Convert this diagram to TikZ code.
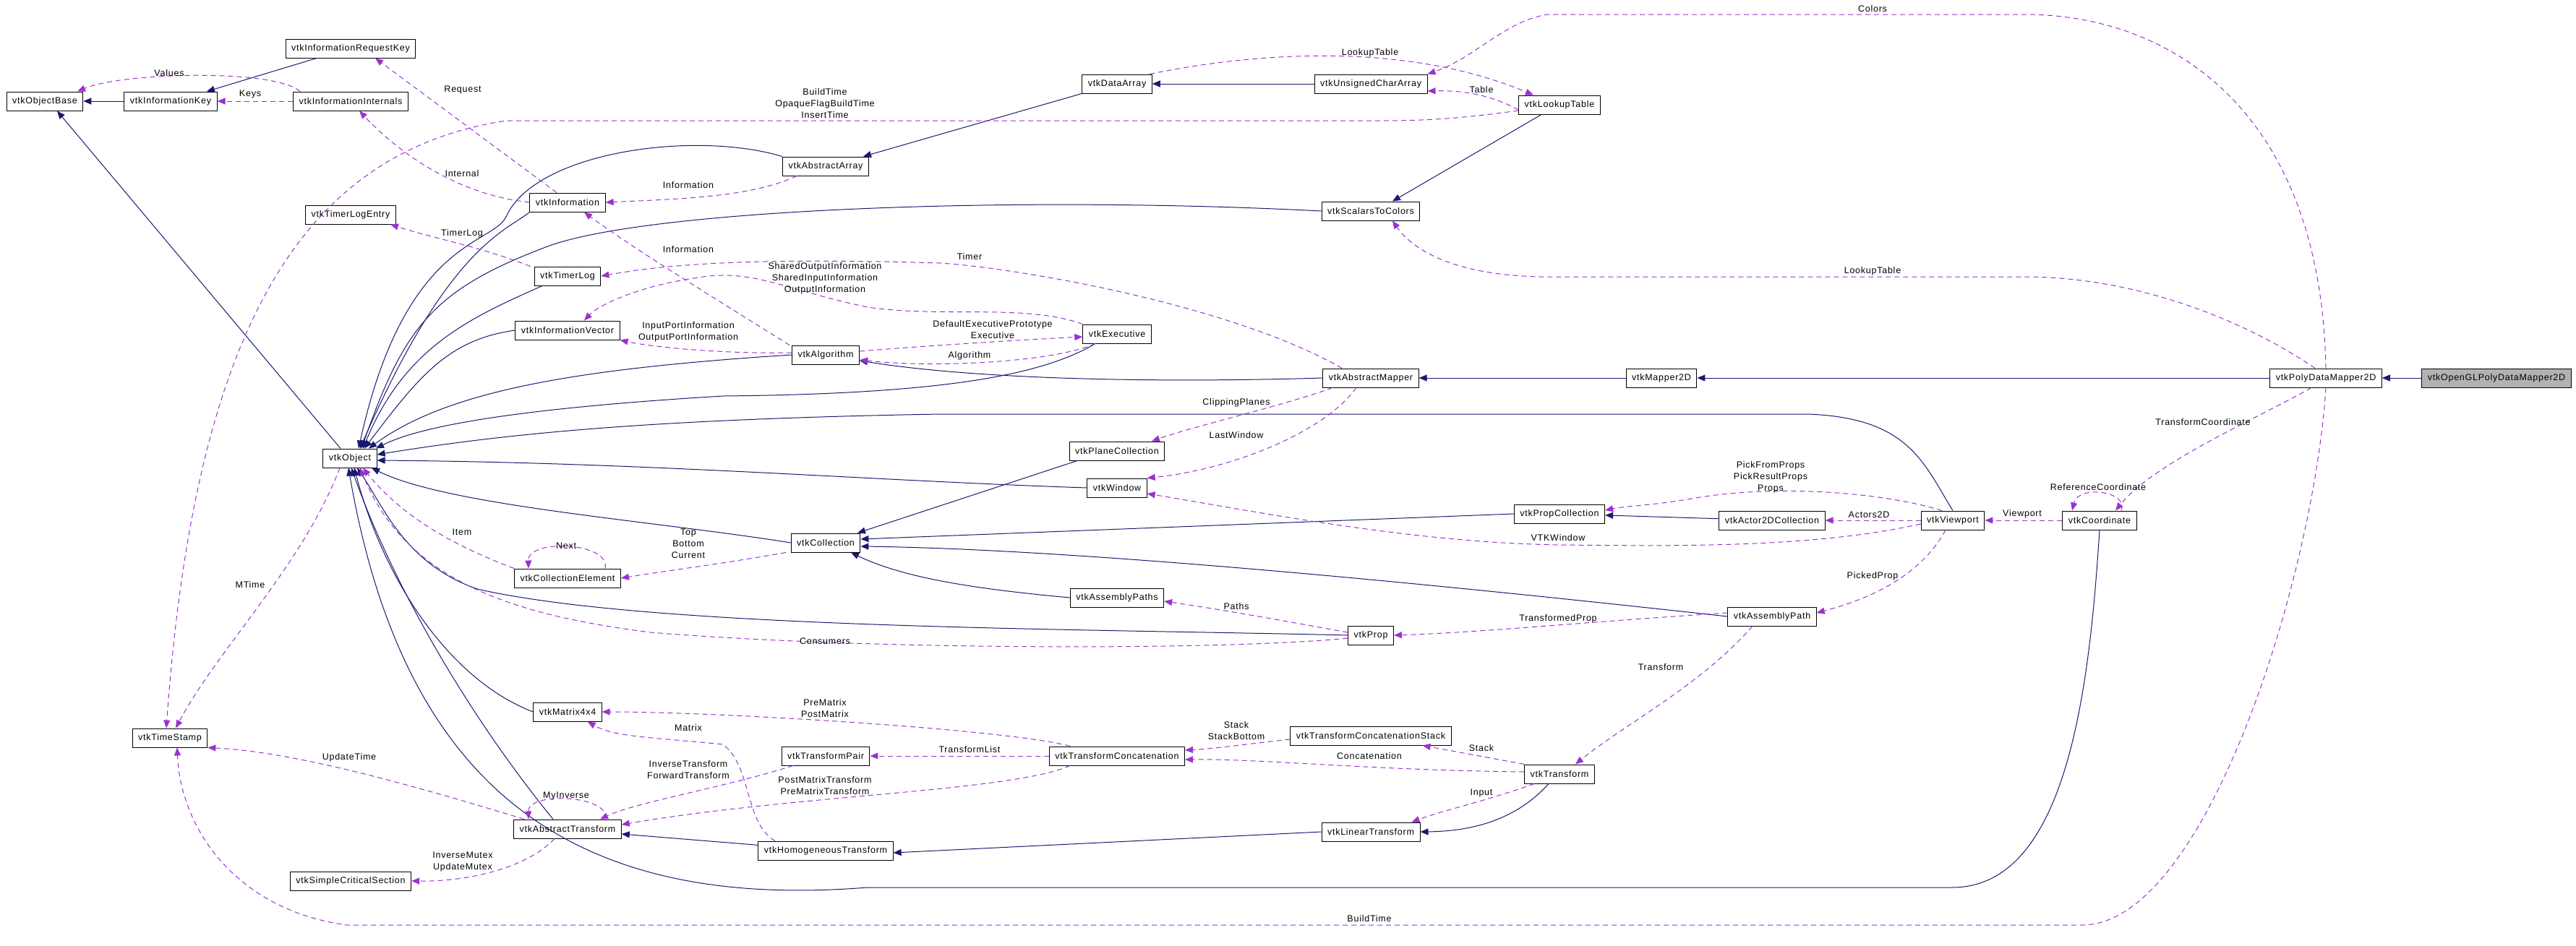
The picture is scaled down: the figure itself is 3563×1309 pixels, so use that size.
\documentclass[tikz,border=0pt]{standalone}
\usepackage{fontspec}
\setmainfont{Liberation Sans}
\newfontfamily\labfont[LetterSpace=6]{Liberation Sans}
\usetikzlibrary{arrows.meta}
\definecolor{navy}{HTML}{191970}
\definecolor{purp}{HTML}{9A32CD}
\begin{document}
\begin{tikzpicture}[x=1pt,y=1pt,
  cls/.style={draw, line width=1pt, minimum height=26pt, inner xsep=8pt, fill=white, font=\labfont\fontsize{12.5}{14}\selectfont},
  lbl/.style={font=\labfont\fontsize{12.5}{16}\selectfont, align=center, inner sep=0pt},
  inh/.style={draw=navy, line width=1pt, -{Triangle[length=11pt,width=9pt]}},
  dep/.style={draw=purp, line width=1pt, dash pattern=on 7pt off 5pt, -{Triangle[length=11pt,width=9pt]}}]
\useasboundingbox (0,0) rectangle (3563,-1309);
% nodes
\node[cls] (ob) at (62,-140) {vtkObjectBase};
\node[cls] (ik) at (236,-140) {vtkInformationKey};
\node[cls] (ii) at (485,-140) {vtkInformationInternals};
\node[cls] (irk) at (485,-67) {vtkInformationRequestKey};
\node[cls] (aa) at (1142,-230) {vtkAbstractArray};
\node[cls] (inf) at (785,-280) {vtkInformation};
\node[cls] (tle) at (485,-297) {vtkTimerLogEntry};
\node[cls] (tl) at (785,-382) {vtkTimerLog};
\node[cls] (iv) at (785,-457) {vtkInformationVector};
\node[cls] (alg) at (1142,-491) {vtkAlgorithm};
\node[cls] (obj) at (484,-634) {vtkObject};
\node[cls] (col) at (1142,-751) {vtkCollection};
\node[cls] (ce) at (785,-800) {vtkCollectionElement};
\node[cls] (m44) at (785,-985) {vtkMatrix4x4};
\node[cls] (ts) at (235,-1021) {vtkTimeStamp};
\node[cls] (tp) at (1142,-1046) {vtkTransformPair};
\node[cls] (at) at (785,-1147) {vtkAbstractTransform};
\node[cls] (ht) at (1142,-1177) {vtkHomogeneousTransform};
\node[cls] (scs) at (485,-1219) {vtkSimpleCriticalSection};
\node[cls] (da) at (1545,-116) {vtkDataArray};
\node[cls] (uca) at (1896,-116) {vtkUnsignedCharArray};
\node[cls] (lut) at (2157,-145) {vtkLookupTable};
\node[cls] (stc) at (1896,-292) {vtkScalarsToColors};
\node[cls] (exe) at (1545,-462) {vtkExecutive};
\node[cls] (am) at (1896,-523) {vtkAbstractMapper};
\node[cls] (m2d) at (2298,-523) {vtkMapper2D};
\node[cls] (pc) at (1545,-624) {vtkPlaneCollection};
\node[cls] (win) at (1545,-675) {vtkWindow};
\node[cls] (propc) at (2157,-711) {vtkPropCollection};
\node[cls] (a2c) at (2451,-720) {vtkActor2DCollection};
\node[cls] (aps) at (1545,-827) {vtkAssemblyPaths};
\node[cls] (ap) at (2451,-853) {vtkAssemblyPath};
\node[cls] (prop) at (1896,-879) {vtkProp};
\node[cls] (tcs) at (1896,-1018) {vtkTransformConcatenationStack};
\node[cls] (tc) at (1545,-1046) {vtkTransformConcatenation};
\node[cls] (tr) at (2157,-1071) {vtkTransform};
\node[cls] (lt) at (1896,-1151) {vtkLinearTransform};
\node[cls] (pdm) at (3217,-523) {vtkPolyDataMapper2D};
\node[cls,fill=black!30] (ogl) at (3453,-523) {vtkOpenGLPolyDataMapper2D};
\node[cls] (vp) at (2701,-720) {vtkViewport};
\node[cls] (coo) at (2904,-720) {vtkCoordinate};
% inheritance
\draw[inh] (ik) -- (ob);
\draw[inh] ([xshift=-47pt]irk.south) -- ([xshift=50pt]ik.north);
\draw[inh] ([xshift=-13pt]obj.north) -- ([xshift=17pt]ob.south);
\draw[inh] (da.south west) -- ([xshift=52pt]aa.north);
\draw[inh] (uca) -- (da);
\draw[inh] ([xshift=-25pt]lut.south) -- ([xshift=30pt]stc.north);
\draw[inh] (m2d) -- (am);
\draw[inh] (pdm) -- (m2d);
\draw[inh] (ogl) -- (pdm);
\draw[inh] (a2c) -- (propc);
\draw[inh] (am.west) .. controls (1600,-530) and (1350,-525) .. ([yshift=-8pt]alg.east);
\draw[inh] ([xshift=-55pt]pc.south) -- ([xshift=44pt]col.north);
\draw[inh] (propc.west) -- ([yshift=5pt]col.east);
\draw[inh] (ap.west) .. controls (2000,-810) and (1500,-760) .. ([yshift=-5pt]col.east);
\draw[inh] (aps.west) .. controls (1350,-815) and (1250,-800) .. ([xshift=35pt]col.south);
\draw[inh] (ht) -- ([yshift=-7pt]at.east);
\draw[inh] (lt.west) -- ([yshift=-3pt]ht.east);
\draw[inh] ([xshift=-15pt]tr.south) .. controls (2110,-1120) and (2060,-1150) .. (lt.east);
% into vtkObject
\draw[inh] (aa.north west) .. controls (960,-180) and (740,-210) .. (700,-300) .. controls (680,-340) and (560,-330) .. ([xshift=12pt]obj.north);
\draw[inh] (inf.south west) .. controls (700,-320) and (620,-340) .. ([xshift=14pt]obj.north);
\draw[inh] (stc.west) .. controls (1400,-270) and (900,-290) .. (760,-340) .. controls (600,-400) and (560,-450) .. ([xshift=16pt]obj.north);
\draw[inh] ([xshift=-35pt]tl.south) .. controls (650,-440) and (560,-480) .. ([xshift=18pt]obj.north);
\draw[inh] (iv.west) .. controls (620,-470) and (580,-520) .. ([xshift=20pt]obj.north);
\draw[inh] (alg.west) .. controls (800,-510) and (620,-540) .. ([xshift=26pt]obj.north);
\draw[inh] ([xshift=-30pt]exe.south) .. controls (1440,-520) and (1300,-545) .. (1000,-548) .. controls (800,-560) and (600,-580) .. ([xshift=36pt]obj.north);
\draw[inh] (vp.north) .. controls (2660,-640) and (2640,-578) .. (2500,-573) -- (1300,-573) .. controls (900,-580) and (700,-600) .. ([yshift=5pt]obj.east);
\draw[inh] (win.west) .. controls (1200,-665) and (900,-640) .. ([yshift=-3pt]obj.east);
\draw[inh] (col.west) .. controls (900,-720) and (620,-700) .. ([xshift=30pt]obj.south);
\draw[inh] (prop.west) .. controls (1500,-870) and (900,-870) .. (660,-815) .. controls (560,-780) and (530,-700) .. ([xshift=10pt]obj.south);
\draw[inh] (m44.west) .. controls (620,-940) and (530,-800) .. ([xshift=6pt]obj.south);
\draw[inh] ([xshift=-20pt]at.north) .. controls (640,-980) and (540,-800) .. ([xshift=2pt]obj.south);
\draw[inh] (coo.south) .. controls (2890,-950) and (2860,-1228) .. (2700,-1228) -- (1200,-1228) .. controls (800,-1260) and (560,-1100) .. ([xshift=-2pt]obj.south);
% dependencies
\draw[dep] ([xshift=-70pt]ii.north) .. controls (380,-95) and (170,-100) .. ([xshift=45pt]ob.north);
\draw[dep] (ii.west) -- (ik.east);
\draw[dep] ([xshift=-15pt]inf.north) -- ([xshift=34pt]irk.south);
\draw[dep] (inf.west) .. controls (640,-270) and (560,-220) .. ([xshift=12pt]ii.south);
\draw[dep] ([xshift=-40pt]aa.south) .. controls (1040,-272) and (950,-275) .. (inf.east);
\draw[dep] ([xshift=-5pt]tl.north west) .. controls (660,-340) and (600,-330) .. ([xshift=55pt]tle.south);
\draw[dep] ([xshift=-50pt]alg.north) .. controls (1000,-420) and (870,-340) .. ([xshift=23pt]inf.south);
\draw[dep] (exe.north west) .. controls (1420,-420) and (1300,-440) .. (1200,-425) .. controls (1080,-400) and (1040,-370) .. (960,-385) .. controls (890,-395) and (830,-420) .. ([xshift=23pt]iv.north);
\draw[dep] ([yshift=3pt]alg.west) .. controls (1000,-490) and (900,-480) .. (iv.south east);
\draw[dep] ([yshift=5pt]alg.east) .. controls (1300,-477) and (1420,-470) .. ([yshift=-4pt]exe.west);
\draw[dep] ([xshift=-30pt]exe.south) .. controls (1460,-500) and (1300,-510) .. ([yshift=-7pt]alg.east);
\draw[dep] ([xshift=-40pt]am.north) .. controls (1700,-420) and (1400,-370) .. (1300,-364) .. controls (1000,-355) and (900,-370) .. (tl.east);
\draw[dep] ([xshift=45pt]da.north) .. controls (1750,-70) and (1950,-60) .. ([xshift=-36pt]lut.north);
\draw[dep] ([yshift=-7pt]lut.west) .. controls (2060,-130) and (2020,-125) .. ([yshift=-10pt]uca.east);
\draw[dep] (pdm.north) .. controls (3210,-150) and (3000,-20) .. (2800,-20) -- (2140,-20) .. controls (2080,-30) and (2040,-80) .. (uca.north east);
\draw[dep] ([xshift=-15pt]pdm.north) .. controls (3100,-440) and (2950,-383) .. (2800,-383) -- (2130,-383) .. controls (2000,-380) and (1950,-340) .. ([xshift=30pt]stc.south);
\draw[dep] ([xshift=-53pt]am.south) .. controls (1780,-560) and (1650,-590) .. ([xshift=48pt]pc.north);
\draw[dep] ([xshift=-20pt]am.south) .. controls (1830,-600) and (1700,-650) .. (win.north east);
\draw[dep] ([yshift=-5pt]vp.west) .. controls (2500,-760) and (2300,-755) .. (2154,-754) .. controls (1950,-750) and (1750,-710) .. ([yshift=-8pt]win.east);
\draw[dep] ([xshift=-15pt]vp.north) .. controls (2600,-680) and (2450,-670) .. (2340,-690) .. controls (2280,-700) and (2250,-700) .. ([yshift=5pt]propc.east);
\draw[dep] (vp.west) -- (a2c.east);
\draw[dep] ([xshift=-10pt]vp.south) .. controls (2660,-790) and (2600,-825) .. ([yshift=5pt]ap.east);
\draw[dep] (coo.west) -- (vp.east);
\draw[dep] ([xshift=30pt]coo.north) .. controls (2945,-680) and (2875,-670) .. ([xshift=-38pt]coo.north);
\draw[dep] ([xshift=-20pt]pdm.south) .. controls (3120,-580) and (2980,-640) .. ([xshift=22pt]coo.north);
\draw[dep] (pdm.south) .. controls (3200,-800) and (3050,-1280) .. (2880,-1280) -- (480,-1280) .. controls (330,-1260) and (250,-1150) .. ([xshift=10pt]ts.south);
\draw[dep] ([yshift=-8pt]lut.west) .. controls (2000,-167) and (1950,-167) .. (1900,-167) -- (700,-167) .. controls (420,-210) and (270,-450) .. ([xshift=-5pt]ts.north);
\draw[dep] ([xshift=-14pt]obj.south) .. controls (420,-780) and (300,-900) .. ([xshift=8pt]ts.north);
\draw[dep] ([yshift=5pt]ap.west) .. controls (2200,-860) and (2050,-875) .. (prop.east);
\draw[dep] ([yshift=4pt]prop.west) .. controls (1780,-860) and (1700,-845) .. ([yshift=-5pt]aps.east);
\draw[dep] ([yshift=-4pt]prop.west) .. controls (1700,-900) and (1200,-900) .. (900,-875) .. controls (700,-850) and (560,-800) .. ([xshift=14pt]obj.south);
\draw[dep] ([xshift=-27pt]ap.south) .. controls (2350,-950) and (2250,-1000) .. ([xshift=22pt]tr.north);
\draw[dep] (tr.north west) -- ([xshift=-40pt]tcs.south east);
\draw[dep] ([yshift=-5pt]tcs.west) .. controls (1720,-1030) and (1680,-1036) .. ([yshift=8pt]tc.east);
\draw[dep] ([yshift=3pt]tr.west) .. controls (1900,-1066) and (1750,-1050) .. ([yshift=-5pt]tc.east);
\draw[dep] ([xshift=14pt]tr.south west) .. controls (2050,-1110) and (2000,-1120) .. ([xshift=-12pt]lt.north east);
\draw[dep] ([xshift=-65pt]tc.north) .. controls (1400,-1010) and (1000,-985) .. (m44.east);
\draw[dep] (tc.west) -- (tp.east);
\draw[dep] ([xshift=-65pt]tc.south) .. controls (1400,-1095) and (1100,-1100) .. ([yshift=6pt]at.east);
\draw[dep] ([xshift=-45pt]tp.south) .. controls (1000,-1090) and (880,-1110) .. ([xshift=45pt]at.north);
\draw[dep] ([xshift=52pt]at.north) .. controls (845,-1100) and (730,-1095) .. ([xshift=-54pt]at.north);
\draw[dep] ([xshift=-60pt]at.north) .. controls (550,-1080) and (400,-1040) .. (ts.south east);
\draw[dep] ([xshift=-18pt]at.south) .. controls (730,-1200) and (650,-1220) .. (scs.east);
\draw[dep] ([xshift=-70pt]ht.north) .. controls (1030,-1140) and (1040,-1060) .. (1000,-1030) .. controls (900,-1020) and (850,-1020) .. ([xshift=-20pt]m44.south east);
\draw[dep] (ce.north west) .. controls (640,-760) and (560,-720) .. ([xshift=18pt]obj.south);
\draw[dep] ([xshift=52pt]ce.north) .. controls (845,-750) and (730,-745) .. ([xshift=-54pt]ce.north);
\draw[dep] ([xshift=-55pt]col.south) .. controls (1000,-780) and (920,-790) .. (ce.east);
% labels
\node[lbl] (l1) at (234,-101) {Values};
\node[lbl] (l2) at (346,-130) {Keys};
\node[lbl] (l3) at (640,-124) {Request};
\node[lbl] (l4) at (1141,-143) {BuildTime\\OpaqueFlagBuildTime\\InsertTime};
\node[lbl] (l5) at (639,-240) {Internal};
\node[lbl] (l6) at (952,-256) {Information};
\node[lbl] (l7) at (639,-323) {TimerLog};
\node[lbl] (l8) at (952,-345) {Information};
\node[lbl] (l9) at (1141,-385) {SharedOutputInformation\\SharedInputInformation\\OutputInformation};
\node[lbl] (l10) at (952,-459) {InputPortInformation\\OutputPortInformation};
\node[lbl] (l11) at (1373,-456) {DefaultExecutivePrototype\\Executive};
\node[lbl] (l12) at (1341,-492) {Algorithm};
\node[lbl] (l13) at (1341,-355) {Timer};
\node[lbl] (l14) at (1895,-73) {LookupTable};
\node[lbl] (l15) at (2049,-124) {Table};
\node[lbl] (l16) at (2590,-12) {Colors};
\node[lbl] (l17) at (2590,-375) {LookupTable};
\node[lbl] (l18) at (1710,-557) {ClippingPlanes};
\node[lbl] (l19) at (1710,-602) {LastWindow};
\node[lbl] (l20) at (2449,-660) {PickFromProps\\PickResultProps\\Props};
\node[lbl] (l21) at (2585,-712) {Actors2D};
\node[lbl] (l22) at (2155,-744) {VTKWindow};
\node[lbl] (l23) at (2590,-797) {PickedProp};
\node[lbl] (l24) at (1710,-839) {Paths};
\node[lbl] (l25) at (2155,-856) {TransformedProp};
\node[lbl] (l26) at (2297,-923) {Transform};
\node[lbl] (l27) at (1710,-1011) {Stack\\StackBottom};
\node[lbl] (l28) at (2049,-1035) {Stack};
\node[lbl] (l29) at (1894,-1046) {Concatenation};
\node[lbl] (l30) at (1341,-1037) {TransformList};
\node[lbl] (l31) at (2049,-1097) {Input};
\node[lbl] (l32) at (1894,-1271) {BuildTime};
\node[lbl] (l33) at (2797,-711) {Viewport};
\node[lbl] (l34) at (2902,-674) {ReferenceCoordinate};
\node[lbl] (l35) at (3047,-584) {TransformCoordinate};
\node[lbl] (l36) at (952,-752) {Top\\Bottom\\Current};
\node[lbl] (l37) at (783,-755) {Next};
\node[lbl] (l38) at (639,-736) {Item};
\node[lbl] (l39) at (346,-809) {MTime};
\node[lbl] (l40) at (1141,-887) {Consumers};
\node[lbl] (l41) at (1141,-980) {PreMatrix\\PostMatrix};
\node[lbl] (l42) at (952,-1007) {Matrix};
\node[lbl] (l43) at (483,-1048) {UpdateTime};
\node[lbl] (l44) at (952,-1065) {InverseTransform\\ForwardTransform};
\node[lbl] (l45) at (1141,-1087) {PostMatrixTransform\\PreMatrixTransform};
\node[lbl] (l46) at (783,-1101) {MyInverse};
\node[lbl] (l47) at (640,-1192) {InverseMutex\\UpdateMutex};
\end{tikzpicture}
\end{document}
